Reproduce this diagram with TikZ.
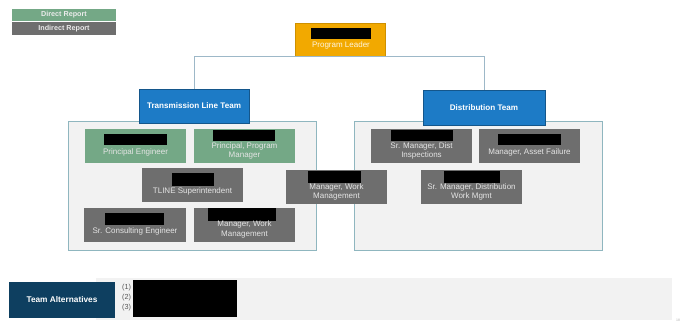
\documentclass[tikz,border=0pt]{standalone}
\usepackage{fontspec}
\setmainfont{Liberation Sans}
\definecolor{dgreen}{HTML}{74A886}
\definecolor{dgray}{HTML}{6E6E6E}
\definecolor{tblue}{HTML}{1D7BC6}
\definecolor{porange}{HTML}{F2A900}
\definecolor{navy}{HTML}{0E3F60}
\definecolor{cfill}{HTML}{F2F2F2}
\definecolor{cborder}{HTML}{8FB6BF}
\definecolor{lline}{HTML}{9DB8C8}
\definecolor{ltext}{HTML}{E4E4E4}
\begin{document}
\begin{tikzpicture}[x=1pt,y=-1pt,
  box/.style={inner sep=0pt, minimum width=101pt, minimum height=34pt, draw=none},
  gbox/.style={box, fill=dgreen},
  ybox/.style={box, fill=dgray},
  redact/.style={fill=black, inner sep=0pt},
  lbl/.style={text=ltext, font=\fontsize{8}{9.3}\selectfont, align=center, inner sep=0pt},
  team/.style={fill=tblue, draw=tblue!70!black, line width=0.4pt, inner sep=0pt, text=white, font=\bfseries\fontsize{8.1}{9}\selectfont},
  container/.style={fill=cfill, draw=cborder, line width=0.8pt},
  legend/.style={inner sep=0pt, minimum width=104pt, text=white!92!black, font=\bfseries\fontsize{7.2}{8}\selectfont}
]
\useasboundingbox[fill=white] (0,0) rectangle (698,336);

% legend
\node[legend, fill=dgreen, minimum height=12pt] (lgd) at (64,15) {Direct Report};
\node[legend, fill=dgray, minimum height=13pt] (lgi) at (64,28.5) {Indirect Report};

% containers
\node[container, minimum width=248pt, minimum height=129pt, inner sep=0pt] (lc) at (192,185.5) {};
\node[container, minimum width=248pt, minimum height=129pt, inner sep=0pt] (rc) at (478,185.5) {};

% program leader
\node[fill=porange, draw=porange!85!black, line width=0.3pt, minimum width=90pt, minimum height=33pt, inner sep=0pt] (pl) at (340,39.5) {};
\node[redact, minimum width=60pt, minimum height=11pt] (plr) at (341,33.5) {};
\node[lbl, text=white!88!porange] (plt) at (341,45.5) {Program Leader};

% team boxes
\node[team, minimum width=110pt, minimum height=34pt] (tlt) at (194,106) {Transmission Line Team};
\node[team, minimum width=122pt, minimum height=35pt] (dt) at (484,107.5) {Distribution Team};

% connectors
\draw[lline, line width=0.8pt] (tlt.north) |- (pl.south) -| (dt.north);

% left team members
\node[gbox] (pe) at (135.5,146) {};
\node[redact, minimum width=63pt, minimum height=11pt] (per) at (135.5,139.5) {};
\node[lbl] (pet) at (135.5,152.5) {Principal Engineer};

\node[gbox] (ppm) at (244.5,146) {};
\node[redact, minimum width=62pt, minimum height=11pt] (ppmr) at (244,135.5) {};
\node[lbl] (ppmt) at (244.5,151) {Principal, Program\\Manager};

\node[ybox] (ts) at (192.5,185) {};
\node[redact, minimum width=42pt, minimum height=13pt] (tsr) at (193,179.5) {};
\node[lbl] (tst) at (192.5,191.5) {TLINE Superintendent};

\node[ybox, minimum width=102pt] (sce) at (135,225) {};
\node[redact, minimum width=59pt, minimum height=12pt] (scer) at (134.5,219) {};
\node[lbl] (scet) at (135,231.5) {Sr. Consulting Engineer};

\node[ybox] (mwm) at (244.5,225) {};
\node[redact, minimum width=68pt, minimum height=13pt] (mwmr) at (242,214.5) {};
\node[lbl] (mwmt) at (244.5,229.5) {Manager, Work\\Management};

% middle
\node[ybox] (mwm2) at (336.5,187) {};
\node[redact, minimum width=53pt, minimum height=12pt] (mwm2r) at (334.5,177) {};
\node[lbl] (mwm2t) at (336.5,192) {Manager, Work\\Management};

% right team members
\node[ybox] (smdi) at (421.5,146) {};
\node[redact, minimum width=62pt, minimum height=11pt] (smdir) at (422,135.5) {};
\node[lbl] (smdit) at (421.5,151) {Sr. Manager, Dist\\Inspections};

\node[ybox] (maf) at (529.5,146) {};
\node[redact, minimum width=63pt, minimum height=11pt] (mafr) at (529.5,139.5) {};
\node[lbl] (maft) at (529.5,152.5) {Manager, Asset Failure};

\node[ybox] (smdw) at (471.5,187) {};
\node[redact, minimum width=56pt, minimum height=12pt] (smdwr) at (472,177) {};
\node[lbl] (smdwt) at (471.5,192) {Sr. Manager, Distribution\\Work Mgmt};

% bottom band
\node[fill=cfill, minimum width=576pt, minimum height=42pt, inner sep=0pt] (band) at (384,299) {};
\node[fill=navy, minimum width=106pt, minimum height=36pt, inner sep=0pt, text=white, font=\bfseries\fontsize{8.3}{9}\selectfont] (ta) at (62,300) {Team Alternatives};
\node[text=dgray!80!black, font=\fontsize{7.3}{8}\selectfont, inner sep=0pt, anchor=west] (a1) at (122,288) {(1)};
\node[text=dgray!80!black, font=\fontsize{7.3}{8}\selectfont, inner sep=0pt, anchor=west] (a2) at (122,298) {(2)};
\node[text=dgray!80!black, font=\fontsize{7.3}{8}\selectfont, inner sep=0pt, anchor=west] (a3) at (122,308) {(3)};
\node[redact, minimum width=104pt, minimum height=37pt] (altr) at (185,298.5) {};

% page number
\node[text=gray!60, font=\fontsize{3.5}{4}\selectfont, inner sep=0pt] (pg) at (678,320) {18};
\end{tikzpicture}
\end{document}
